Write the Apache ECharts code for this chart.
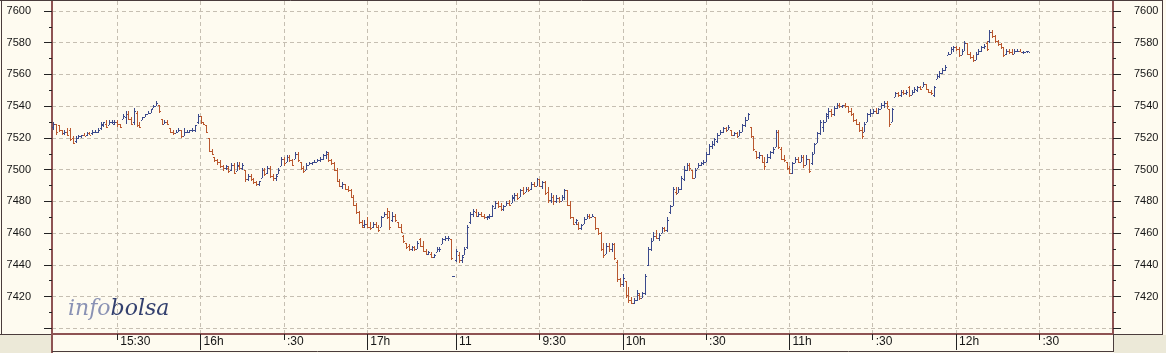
<!DOCTYPE html>
<html><head><meta charset="utf-8">
<script src="https://cdn.jsdelivr.net/npm/echarts@6/dist/echarts.min.js"></script>
<style>html,body{margin:0;padding:0;background:#fefbf0;}#c{width:1166px;height:353px;}</style>
</head><body><div id="c"></div>
<script>
// ---- sessions (minute bars) ----
const sessionStarts = ['15:07', '17:35', '9:00'];
const sessionCounts = [144, 1, 237];

// ---- x-axis tick labels ----
const halfHourTicks = ['15:30', '16:30', '9:30', '10:30', '11:30', '12:30'];
const halfHourText  = ['15:30', ':30',   '9:30', ':30',   ':30',   ':30'];
const hourTicks = ['16:00', '17:00', '9:00', '10:00', '11:00', '12:00'];
const hourText  = ['16h',   '17h',   '11',   '10h',   '11h',   '12h'];

// ---- OHLC bars [open, high, low, close] ----
const day1Bars = [
[7527,7530,7525,7529],[7529,7529,7522,7524],[7528,7528,7524,7525],[7525,7525,7522,7523],[7523,7525,7522,7524],
[7524,7526,7521,7522],[7525,7526,7518,7519],[7520,7521,7516,7517],[7518,7521,7517,7520],[7520,7522,7519,7521],
[7521,7522,7520,7522],[7522,7523,7521,7521],[7522,7524,7521,7523],[7523,7524,7522,7522],[7523,7525,7522,7524],
[7524,7525,7523,7524],[7524,7526,7523,7525],[7526,7530,7525,7529],[7528,7530,7527,7530],[7529,7531,7526,7527],
[7528,7531,7528,7530],[7530,7531,7529,7530],[7529,7531,7528,7530],[7530,7531,7527,7529],[7529,7529,7526,7527],
[7532,7535,7532,7534],[7533,7537,7529,7535],[7535,7537,7531,7532],[7532,7533,7528,7529],[7530,7539,7528,7537],
[7536,7537,7527,7528],[7528,7530,7526,7527],[7531,7533,7531,7533],[7533,7535,7533,7535],[7535,7537,7535,7536],
[7536,7538,7536,7538],[7539,7541,7539,7540],[7540,7543,7540,7542],[7541,7541,7536,7537],[7532,7532,7528,7529],
[7529,7531,7529,7530],[7530,7531,7528,7529],[7526,7526,7523,7524],[7524,7525,7522,7523],[7523,7525,7523,7524],
[7524,7526,7524,7525],[7525,7525,7520,7521],[7521,7526,7521,7524],[7524,7525,7523,7524],[7524,7525,7523,7525],
[7525,7526,7524,7525],[7525,7528,7524,7528],[7530,7535,7529,7534],[7534,7534,7529,7530],[7530,7530,7528,7529],
[7528,7528,7523,7524],[7520,7520,7511,7512],[7512,7513,7509,7510],[7508,7508,7505,7506],[7506,7507,7503,7505],
[7505,7506,7501,7502],[7502,7503,7499,7501],[7501,7503,7500,7502],[7501,7502,7498,7499],[7500,7504,7499,7503],
[7503,7504,7497,7498],[7499,7505,7499,7503],[7502,7505,7500,7501],[7501,7504,7500,7503],[7500,7500,7492,7494],
[7494,7497,7493,7496],[7496,7497,7493,7494],[7494,7495,7491,7492],[7492,7493,7490,7491],[7491,7493,7490,7493],
[7495,7501,7495,7500],[7500,7501,7496,7497],[7498,7502,7497,7501],[7501,7502,7495,7496],[7496,7497,7493,7495],
[7495,7497,7493,7496],[7497,7501,7497,7500],[7502,7508,7502,7507],[7507,7508,7502,7504],[7505,7509,7505,7508],
[7508,7509,7505,7506],[7506,7507,7502,7503],[7507,7511,7507,7510],[7510,7511,7505,7506],[7505,7505,7500,7501],
[7501,7502,7498,7499],[7500,7504,7500,7503],[7503,7505,7503,7504],[7504,7505,7503,7505],[7505,7506,7504,7505],
[7505,7507,7505,7506],[7506,7508,7505,7507],[7507,7510,7506,7509],[7509,7512,7507,7511],[7510,7511,7505,7506],
[7506,7507,7503,7504],[7504,7505,7499,7500],[7500,7501,7492,7493],[7493,7494,7489,7490],[7490,7492,7488,7491],
[7491,7491,7487,7488],[7488,7490,7486,7487],[7487,7488,7482,7483],[7483,7484,7477,7478],[7478,7479,7472,7473],
[7473,7474,7466,7467],[7467,7468,7463,7464],[7465,7468,7463,7466],[7466,7470,7463,7464],[7464,7467,7462,7463],
[7464,7467,7463,7466],[7466,7467,7463,7464],[7464,7465,7461,7462],[7464,7471,7464,7470],[7470,7473,7470,7472],
[7472,7476,7469,7470],[7474,7474,7462,7464],[7468,7473,7467,7471],[7471,7472,7467,7468],[7467,7467,7463,7464],
[7464,7466,7460,7461],[7458,7459,7454,7455],[7454,7454,7450,7451],[7452,7453,7449,7450],[7450,7452,7449,7451],
[7451,7452,7449,7450],[7450,7455,7450,7454],[7456,7457,7451,7452],[7452,7455,7448,7449],[7449,7450,7446,7447],
[7447,7449,7446,7448],[7447,7448,7444,7445],[7445,7447,7444,7446],[7448,7451,7448,7450],[7450,7451,7448,7450],
[7453,7457,7453,7456],[7456,7458,7455,7457],[7457,7458,7455,7457],[7456,7456,7443,7444]
];
const auctionBar = [7433,7433,7433,7433];
const day2Bars = [
[7443,7450,7442,7449],[7446,7448,7441,7443],[7443,7446,7441,7445],[7446,7451,7446,7450],[7451,7465,7450,7464],
[7467,7473,7466,7472],[7472,7475,7470,7474],[7473,7475,7470,7471],[7471,7473,7470,7472],[7472,7473,7470,7471],
[7471,7472,7469,7470],[7470,7471,7468,7471],[7470,7472,7469,7471],[7471,7478,7470,7477],[7476,7480,7475,7479],
[7479,7480,7476,7477],[7477,7479,7474,7475],[7475,7478,7474,7477],[7477,7480,7477,7479],[7479,7481,7477,7478],
[7479,7484,7479,7483],[7482,7485,7480,7484],[7484,7485,7481,7482],[7483,7488,7483,7487],[7487,7489,7484,7485],
[7486,7489,7486,7488],[7488,7489,7486,7487],[7488,7492,7487,7491],[7491,7492,7489,7490],[7490,7495,7490,7494],
[7494,7494,7489,7490],[7490,7493,7488,7492],[7492,7493,7484,7485],[7486,7489,7479,7481],[7481,7485,7479,7483],
[7483,7484,7478,7480],[7480,7484,7479,7482],[7482,7483,7479,7480],[7480,7484,7480,7483],[7483,7488,7481,7487],
[7487,7487,7477,7478],[7478,7480,7469,7470],[7470,7470,7465,7466],[7467,7469,7465,7468],[7466,7467,7462,7463],
[7463,7466,7462,7465],[7466,7470,7466,7469],[7469,7472,7469,7471],[7471,7472,7469,7470],[7470,7472,7470,7471],
[7470,7470,7462,7463],[7463,7463,7459,7460],[7460,7461,7449,7450],[7450,7454,7444,7446],[7447,7454,7447,7452],
[7452,7454,7448,7450],[7450,7454,7448,7453],[7453,7454,7443,7444],[7442,7443,7429,7431],[7431,7432,7426,7428],
[7428,7434,7426,7432],[7430,7430,7419,7421],[7421,7426,7416,7418],[7418,7420,7415,7416],[7416,7419,7415,7418],
[7418,7424,7417,7422],[7421,7422,7418,7419],[7419,7423,7419,7422],[7422,7434,7421,7433],[7440,7451,7439,7450],
[7450,7457,7449,7455],[7455,7461,7455,7458],[7458,7462,7456,7457],[7457,7460,7455,7459],[7460,7464,7460,7463],
[7463,7464,7461,7462],[7462,7470,7461,7468],[7473,7478,7472,7477],[7477,7489,7477,7488],[7486,7489,7484,7485],
[7485,7489,7485,7488],[7488,7496,7487,7495],[7494,7502,7493,7500],[7500,7504,7499,7503],[7503,7504,7499,7501],
[7500,7500,7494,7495],[7495,7501,7495,7500],[7501,7504,7501,7503],[7503,7505,7502,7504],[7504,7506,7503,7505],
[7505,7511,7505,7510],[7510,7516,7509,7515],[7515,7518,7513,7516],[7516,7520,7515,7519],[7518,7523,7517,7522],
[7522,7525,7522,7524],[7524,7527,7523,7526],[7526,7527,7524,7525],[7525,7528,7525,7527],[7525,7525,7521,7522],
[7522,7524,7521,7523],[7523,7524,7520,7521],[7521,7525,7521,7524],[7524,7529,7524,7528],[7528,7533,7527,7531],
[7531,7536,7531,7535],[7527,7527,7520,7521],[7521,7521,7512,7513],[7512,7512,7507,7508],[7508,7511,7507,7509],
[7509,7509,7504,7505],[7505,7508,7500,7502],[7505,7510,7504,7508],[7508,7512,7507,7511],[7511,7514,7510,7513],
[7514,7525,7514,7524],[7524,7525,7513,7514],[7513,7514,7506,7507],[7507,7509,7505,7506],[7505,7505,7500,7501],
[7501,7502,7497,7498],[7498,7505,7497,7504],[7504,7508,7504,7507],[7507,7508,7504,7505],[7505,7509,7505,7508],
[7508,7509,7501,7503],[7503,7509,7503,7507],[7507,7507,7498,7499],[7504,7511,7503,7510],[7510,7517,7510,7516],
[7517,7524,7517,7523],[7523,7531,7522,7530],[7527,7531,7524,7530],[7530,7536,7530,7535],[7534,7539,7532,7537],
[7537,7538,7533,7535],[7535,7540,7534,7539],[7539,7542,7538,7541],[7541,7542,7539,7540],[7540,7541,7539,7541],
[7541,7542,7539,7540],[7540,7540,7536,7537],[7537,7539,7534,7535],[7535,7536,7530,7531],[7531,7532,7528,7529],
[7529,7530,7524,7525],[7525,7527,7519,7521],[7524,7530,7524,7529],[7530,7536,7530,7535],[7535,7538,7533,7536],
[7536,7538,7535,7537],[7537,7539,7535,7536],[7536,7539,7535,7538],[7538,7542,7538,7541],[7541,7543,7539,7542],
[7542,7543,7538,7540],[7538,7538,7527,7529],[7530,7539,7530,7538],[7546,7549,7546,7548],[7548,7549,7546,7547],
[7547,7550,7546,7549],[7549,7550,7547,7548],[7548,7550,7547,7549],[7552,7553,7546,7547],[7547,7550,7547,7549],
[7549,7552,7548,7551],[7550,7553,7549,7552],[7552,7553,7550,7551],[7552,7555,7552,7554],[7554,7554,7550,7551],
[7551,7551,7548,7549],[7549,7550,7547,7548],[7547,7553,7546,7552],[7557,7560,7557,7559],[7559,7562,7558,7561],
[7561,7564,7560,7563],[7563,7566,7562,7565],[7572,7574,7572,7573],[7573,7577,7573,7576],[7576,7578,7574,7577],
[7577,7578,7575,7576],[7576,7577,7571,7572],[7572,7576,7572,7575],[7575,7581,7575,7580],[7580,7580,7572,7573],
[7573,7574,7570,7571],[7571,7572,7568,7569],[7569,7574,7569,7573],[7573,7576,7572,7575],[7575,7578,7574,7577],
[7577,7579,7576,7578],[7580,7581,7575,7576],[7581,7588,7580,7587],[7587,7588,7583,7584],[7584,7585,7580,7581],
[7581,7582,7578,7579],[7579,7580,7576,7577],[7577,7577,7571,7572],[7573,7576,7572,7575],[7575,7576,7573,7574],
[7574,7576,7572,7573],[7573,7576,7573,7575],[7575,7576,7574,7575],[7575,7576,7574,7574],[7574,7575,7573,7574],
[7574,7575,7574,7575],[7574,7575,7574,7574]
];

// ---- y-axis scale ----
const yTickMin = 7400, yTickMax = 7600, yTickStep = 20;
const yFrameMin = 7396.4, yFrameMax = 7606.3;

// ---- styles ----
const UP = '#3b4a8c', DOWN = '#b9582f';
const AXIS = '#8e5353';
const GRIDC = '#c6bfb2';
const TXT = '#151515';

// categories (minute labels)
function pad(n){return n<10?'0'+n:''+n;}
const categories = [];
sessionStarts.forEach((s, k) => {
  let [h, m] = s.split(':').map(Number);
  for (let j = 0; j < sessionCounts[k]; j++) {
    categories.push(h + ':' + pad(m));
    m++; if (m === 60) { m = 0; h++; }
  }
});
const catIndex = name => categories.indexOf(name);
const halfSet = new Set(halfHourTicks.map(catIndex));
const hourSet = new Set(hourTicks.map(catIndex));
const labelMap = {};
halfHourTicks.forEach((t, k) => labelMap[t] = halfHourText[k]);
hourTicks.forEach((t, k) => labelMap[t] = hourText[k]);

const rows = [];
const d1 = catIndex(sessionStarts[0]);
day1Bars.forEach((b, k) => rows.push([d1 + k].concat(b)));
rows.push([catIndex(sessionStarts[1])].concat(auctionBar));
const d2 = catIndex(sessionStarts[2]);
day2Bars.forEach((b, k) => rows.push([d2 + k].concat(b)));

function renderOHLC(params, api) {
  const i = api.value(0);
  const o = api.value(1), h = api.value(2), l = api.value(3), c = api.value(4);
  const pH = api.coord([i, h]), pL = api.coord([i, l]);
  const pO = api.coord([i, o]), pC = api.coord([i, c]);
  const x = Math.round(pH[0]) + 0.5;
  const color = c < o ? DOWN : UP;
  const hy = Math.round(pH[1]), ly = Math.max(Math.round(pL[1]), hy + 1);
  const oy = Math.round(pO[1]) + 0.5, cy = Math.round(pC[1]) + 0.5;
  const st = {stroke: color, lineWidth: 1};
  return {type: 'group', children: [
    {type: 'line', shape: {x1: x, y1: hy, x2: x, y2: ly}, style: st},
    {type: 'line', shape: {x1: x - 1.5, y1: oy, x2: x - 0.5, y2: oy}, style: st},
    {type: 'line', shape: {x1: x + 0.5, y1: cy, x2: x + 1.5, y2: cy}, style: st}
  ]};
}

const chart = echarts.init(document.getElementById('c'), null, {renderer: 'canvas'});
const labelFont = {fontFamily: 'Liberation Sans', color: TXT};
const yTickAxis = pos => ({
  gridIndex: 1, type: 'value', position: pos, min: yTickMin, max: yTickMax, interval: yTickStep,
  axisLine: {show: false},
  axisTick: {show: true, length: 8, lineStyle: {color: '#222', width: 1}},
  minorTick: {show: true, splitNumber: 2, length: 3, lineStyle: {color: '#222', width: 1}},
  axisLabel: Object.assign({show: true, margin: 21, fontSize: 11, showMinLabel: false,
    formatter: v => String(v)}, labelFont),
  splitLine: {show: pos === 'left', lineStyle: {color: GRIDC, type: [4, 3], width: 1}},
  minorSplitLine: {show: false}
});
const yFrameAxis = pos => ({
  gridIndex: 0, type: 'value', position: pos, min: yFrameMin, max: yFrameMax,
  axisLine: {show: true, lineStyle: {color: AXIS, width: 2}},
  axisTick: {show: false}, axisLabel: {show: false}, splitLine: {show: false}
});

chart.setOption({
  animation: false,
  backgroundColor: '#fefbf0',
  grid: [
    {left: 52, right: 53, top: 1, bottom: 19},
    {left: 52, right: 53, top: 11, bottom: 24.7}
  ],
  xAxis: [
    {gridIndex: 0, type: 'category', data: categories, position: 'bottom', boundaryGap: true,
     axisLine: {show: true, onZero: false, lineStyle: {color: AXIS, width: 2}},
     axisTick: {show: true, alignWithLabel: true, interval: i => halfSet.has(i), length: 6, lineStyle: {color: '#222'}},
     axisLabel: Object.assign({show: true, interval: i => halfSet.has(i), formatter: v => labelMap[v] || '',
       align: 'left', padding: [0, 0, 0, 3], margin: 2, fontSize: 12}, labelFont),
     splitLine: {show: true, alignWithLabel: true, interval: i => halfSet.has(i) || hourSet.has(i),
       lineStyle: {color: GRIDC, type: [4, 3], width: 1}}
    },
    {gridIndex: 0, type: 'category', data: categories, position: 'bottom', boundaryGap: true,
     axisLine: {show: false, onZero: false},
     axisTick: {show: true, alignWithLabel: true, interval: i => hourSet.has(i), length: 16, lineStyle: {color: '#222'}},
     axisLabel: Object.assign({show: true, interval: i => hourSet.has(i), formatter: v => labelMap[v] || '',
       align: 'left', padding: [0, 0, 0, 3], margin: 2, fontSize: 12}, labelFont),
     splitLine: {show: false}
    },
    {gridIndex: 1, type: 'category', data: categories, show: false}
  ],
  yAxis: [yFrameAxis('left'), yFrameAxis('right'), yTickAxis('left'), yTickAxis('right')],
  graphic: [
    {type: 'rect', shape: {x: 0, y: 335, width: 51, height: 18}, style: {fill: '#ece9d8'}, z: 1},
    {type: 'rect', shape: {x: 1114, y: 335, width: 52, height: 18}, style: {fill: '#ece9d8'}, z: 1},
    {type: 'line', shape: {x1: 0, y1: 0.5, x2: 1163, y2: 0.5}, style: {stroke: '#4a3c3c', lineWidth: 1}, z: 5},
    {type: 'line', shape: {x1: 1.5, y1: 0, x2: 1.5, y2: 335}, style: {stroke: '#4a3c3c', lineWidth: 1}, z: 5},
    {type: 'line', shape: {x1: 0, y1: 334.5, x2: 52, y2: 334.5}, style: {stroke: '#4a3c3c', lineWidth: 1}, z: 5},
    {type: 'line', shape: {x1: 1162.5, y1: 0, x2: 1162.5, y2: 334}, style: {stroke: '#4a3c3c', lineWidth: 1}, z: 5},
    {type: 'line', shape: {x1: 1113, y1: 334.5, x2: 1163, y2: 334.5}, style: {stroke: '#4a3c3c', lineWidth: 1}, z: 5},
    {type: 'line', shape: {x1: 52, y1: 333, x2: 52, y2: 353}, style: {stroke: AXIS, lineWidth: 2}, z: 5},
    {type: 'line', shape: {x1: 1113.5, y1: 334, x2: 1113.5, y2: 352}, style: {stroke: '#4a3c3c', lineWidth: 1}, z: 5},
    {type: 'line', shape: {x1: 52, y1: 351.5, x2: 1114, y2: 351.5}, style: {stroke: '#4a3c3c', lineWidth: 1}, z: 5},
    {type: 'text', x: 68, y: 320, z: 0,
     style: {text: '{a|info}{b|bolsa}', textVerticalAlign: 'bottom',
       rich: {a: {fill: '#8a92b4', fontFamily: 'DejaVu Serif', fontStyle: 'italic', fontSize: 22},
              b: {fill: '#33406e', fontFamily: 'DejaVu Serif', fontStyle: 'italic', fontSize: 22}}}}
  ],
  series: [{
    type: 'custom', xAxisIndex: 0, yAxisIndex: 0, clip: true,
    renderItem: renderOHLC,
    dimensions: ['x', 'open', 'high', 'low', 'close'],
    encode: {x: 0, y: [1, 2, 3, 4]},
    data: rows, z: 3
  }]
});
</script></body></html>
